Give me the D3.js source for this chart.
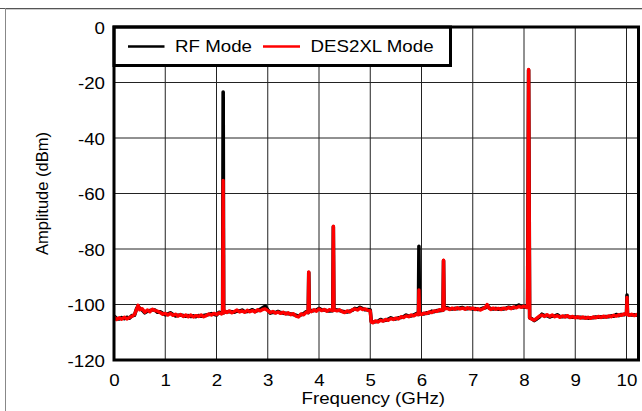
<!DOCTYPE html>
<html><head><meta charset="utf-8">
<script src="https://cdn.jsdelivr.net/npm/d3@7"></script>
<style>html,body{margin:0;padding:0;background:#fff;}svg{display:block;}</style>
</head><body>
<script>
const freqGHz = [
  0,0.05,0.1,0.15,0.2,0.25,0.3,0.35,0.4,0.44,0.47,0.5,0.55,0.6,0.65,0.7,0.75,0.8,0.85,0.9,0.95,
  1,1.05,1.1,1.15,1.2,1.25,1.3,1.35,1.4,1.45,1.5,1.55,1.6,1.65,1.7,1.75,1.8,1.85,1.9,1.95,
  2,2.05,2.1,2.12,2.13,2.14,2.17,2.2,2.25,2.3,2.35,2.4,2.45,2.5,2.55,2.6,2.65,2.7,2.75,2.8,2.85,2.9,2.95,
  3,3.05,3.1,3.15,3.2,3.25,3.3,3.35,3.4,3.45,3.5,3.55,3.6,3.65,3.7,3.75,3.79,3.8,3.81,3.85,3.9,3.95,
  4,4.05,4.1,4.15,4.2,4.27,4.28,4.29,4.35,4.4,4.45,4.5,4.55,4.6,4.65,4.7,4.75,4.8,4.85,4.9,4.95,
  5,5.02,5.05,5.1,5.15,5.2,5.25,5.3,5.35,5.4,5.45,5.5,5.55,5.6,5.65,5.7,5.75,5.8,5.85,5.9,5.94,5.95,5.96,
  6,6.05,6.1,6.15,6.2,6.25,6.3,6.35,6.42,6.43,6.44,6.5,6.55,6.6,6.65,6.7,6.75,6.8,6.85,6.9,6.95,
  7,7.05,7.1,7.15,7.2,7.25,7.28,7.32,7.35,7.4,7.45,7.5,7.55,7.6,7.65,7.7,7.75,7.8,7.85,7.9,7.95,8,8.05,8.07,8.09,8.11,
  8.15,8.2,8.25,8.3,8.35,8.4,8.45,8.5,8.55,8.6,8.65,8.7,8.75,8.8,8.85,8.9,8.95,
  9,9.05,9.1,9.15,9.2,9.25,9.3,9.35,9.4,9.45,9.5,9.55,9.6,9.65,9.7,9.75,9.8,9.85,9.9,9.95,
  10,10.01,10.02,10.05,10.1,10.15,10.2,10.22
];
const des2xlModeDbm = [
  -104.5,-105.4,-104.8,-105.3,-104.6,-105.2,-104.7,-104.3,-103.6,-101.8,-100.3,-101.9,-101.5,-102.8,-102.0,-102.6,-101.7,-102.2,-102.4,-102.9,-103.5,
  -103.2,-103.8,-103.2,-103.9,-103.5,-104.2,-103.6,-104.3,-103.8,-104.4,-103.8,-104.5,-104.0,-104.3,-103.8,-104.4,-104.0,-103.4,-103.8,-103.2,
  -103.6,-103.0,-103.4,-103.0,-55.3,-103.0,-102.4,-102.9,-102.3,-103.0,-102.5,-102.0,-102.7,-102.3,-102.8,-102.1,-102.6,-102.2,-102.7,-101.9,-102.3,-101.8,-101.6,
  -102.2,-102.9,-102.5,-103.1,-102.7,-103.2,-102.8,-103.4,-103.0,-103.7,-103.3,-104.2,-104.5,-103.4,-103.7,-102.8,-102.9,-88.3,-102.3,-102.6,-101.9,-102.4,
  -101.6,-102.2,-101.8,-102.4,-101.9,-102.2,-71.8,-101.8,-102.3,-101.9,-102.6,-102.9,-102.3,-102.7,-101.9,-101.6,-102.0,-101.3,-101.8,-101.6,-102.1,
  -102.3,-106.3,-106.6,-105.9,-106.3,-105.7,-106.0,-105.4,-105.7,-105.1,-105.4,-104.9,-105.2,-104.4,-104.7,-104.1,-104.4,-103.8,-104.1,-103.5,-103.6,-94.8,-103.2,
  -103.6,-103.1,-103.3,-102.7,-102.9,-102.3,-102.5,-101.9,-102.1,-84.0,-101.6,-101.4,-101.8,-101.3,-101.7,-101.2,-101.6,-101.3,-101.7,-101.2,-101.6,
  -101.3,-101.8,-101.5,-102.0,-101.5,-101.0,-100.0,-101.4,-101.8,-101.3,-101.7,-101.4,-101.8,-101.3,-101.6,-101.1,-101.5,-100.9,-101.2,-100.7,-101.0,-100.6,-101.1,-101.0,-15.3,-104.8,
  -105.3,-105.6,-104.9,-104.2,-103.8,-104.3,-103.7,-104.3,-103.8,-104.4,-104.0,-104.6,-104.1,-104.5,-104.0,-104.7,-104.3,
  -104.8,-104.4,-104.9,-104.5,-105.0,-104.6,-105.0,-104.5,-104.8,-104.3,-104.7,-104.2,-104.6,-104.1,-104.4,-103.9,-104.2,-103.7,-103.9,-103.4,
  -103.6,-97.5,-103.5,-103.9,-103.5,-104.0,-103.6,-104.0
];
const rfModeDbm = [
  -104.2,-105.0,-105.2,-104.7,-105.1,-104.6,-104.9,-104.0,-103.9,-101.5,-100.6,-101.4,-102.0,-103.0,-102.4,-102.2,-101.9,-102.0,-102.8,-102.6,-103.2,
  -103.7,-103.4,-103.0,-103.6,-104.1,-103.9,-103.8,-104.0,-104.2,-104.0,-104.3,-104.1,-104.4,-104.0,-104.2,-104.0,-103.8,-103.6,-103.3,-103.5,
  -103.8,-102.8,-103.1,-103.0,-23.4,-103.0,-102.6,-102.7,-102.5,-102.6,-102.8,-102.3,-102.4,-102.0,-102.6,-102.5,-102.3,-101.9,-102.5,-102.2,-101.8,-101.2,-100.6,
  -101.9,-103.1,-102.8,-102.9,-102.5,-102.9,-103.1,-103.2,-103.3,-103.4,-103.6,-103.9,-104.2,-103.7,-103.3,-102.6,-102.9,-88.5,-102.3,-102.2,-102.2,-102.0,
  -101.4,-101.9,-102.0,-102.2,-102.3,-102.2,-72.0,-101.8,-102.0,-102.2,-102.4,-102.6,-102.7,-102.4,-102.1,-101.4,-101.7,-101.0,-101.5,-101.9,-101.8,
  -102.0,-106.1,-106.3,-106.2,-106.0,-105.4,-105.8,-105.7,-105.3,-104.8,-105.2,-105.2,-104.8,-104.7,-104.4,-103.8,-104.2,-104.1,-103.8,-103.3,-103.6,-79.0,-103.2,
  -103.3,-103.4,-103.0,-103.0,-102.4,-102.6,-102.2,-102.2,-102.1,-84.2,-101.6,-101.1,-101.6,-101.6,-101.4,-101.5,-101.3,-101.1,-101.5,-101.5,-101.3,
  -101.6,-101.5,-101.8,-101.7,-101.3,-101.2,-100.3,-101.2,-101.5,-101.6,-101.4,-101.7,-101.5,-101.6,-101.3,-101.0,-101.2,-101.2,-100.8,-100.2,-100.8,-100.9,-101.0,-101.0,-15.5,-104.8,
  -105.1,-105.8,-105.2,-104.5,-103.5,-104.0,-104.0,-104.5,-104.1,-104.2,-103.7,-104.3,-104.4,-104.2,-104.3,-104.5,-104.6,
  -104.5,-104.7,-104.6,-104.8,-104.7,-104.9,-104.8,-104.8,-104.5,-104.6,-104.4,-104.5,-104.3,-104.4,-104.1,-104.2,-103.6,-104.0,-103.6,-103.7,
  -103.3,-96.6,-103.5,-103.7,-103.8,-103.7,-103.9,-103.8
];
const xTicks = [0,1,2,3,4,5,6,7,8,9,10];
const yTicks = [0,-20,-40,-60,-80,-100,-120];
const seriesNames = ["RF Mode","DES2XL Mode"];
const seriesColors = ["#000000","#ff0000"];

const W = 642, H = 411;
const L = 114, R = 638.5, T = 27, B = 360;
const sx = 1.17;
const FONT = "'Liberation Sans', Arial, Helvetica, sans-serif";

const svg = d3.select("body").append("svg").attr("width", W).attr("height", H)
  .style("font-family", FONT);

// outer frame
svg.append("line").attr("x1",0).attr("x2",W).attr("y1",8.5).attr("y2",8.5).attr("stroke","#555").attr("stroke-width",1);
svg.append("line").attr("x1",6).attr("x2",W).attr("y1",9.5).attr("y2",9.5).attr("stroke","#ccc").attr("stroke-width",1);
svg.append("line").attr("x1",5.5).attr("x2",5.5).attr("y1",8).attr("y2",H).attr("stroke","#888").attr("stroke-width",1);

const x = d3.scaleLinear().domain([0, (R - L) / 51.25]).range([L, R]);
const y = d3.scaleLinear().domain([-120, 0]).range([B, T]);

// grid
const grid = svg.append("g");
grid.selectAll(".vg").data(xTicks.filter(d => d > 0)).enter().append("line")
  .attr("x1", d => x(d)).attr("x2", d => x(d)).attr("y1", T).attr("y2", B)
  .attr("stroke", "#222").attr("stroke-width", 1);
grid.selectAll(".hg").data(yTicks.filter(d => d > -120 && d < 0)).enter().append("line")
  .attr("x1", L).attr("x2", R).attr("y1", d => y(d)).attr("y2", d => y(d))
  .attr("stroke", "#222").attr("stroke-width", 1);

// clip
svg.append("clipPath").attr("id","clip").append("rect")
  .attr("x", L).attr("y", T).attr("width", R - L).attr("height", B - T);

const rfData = freqGHz.map((f, i) => [f, rfModeDbm[i]]);
const desData = freqGHz.map((f, i) => [f, des2xlModeDbm[i]]);
const line = d3.line().x(d => x(d[0])).y(d => y(d[1]));
const plot = svg.append("g").attr("clip-path","url(#clip)");
plot.append("path").datum(rfData).attr("d", line).attr("fill","none")
  .attr("stroke", seriesColors[0]).attr("stroke-width", 3.6).attr("stroke-linejoin","round");
plot.append("path").datum(desData).attr("d", line).attr("fill","none")
  .attr("stroke", seriesColors[1]).attr("stroke-width", 3.4).attr("stroke-linejoin","round");

// legend
const lg = svg.append("g");
lg.append("rect").attr("x", L).attr("y", T).attr("width", 450.5 - L).attr("height", 65.5 - T)
  .attr("fill","#fff").attr("stroke","#000").attr("stroke-width",3);
const legItems = [{x1:128, x2:164.5, tx:175}, {x1:263, x2:300, tx:310.5}];
legItems.forEach((it, i) => {
  lg.append("line").attr("x1", it.x1).attr("x2", it.x2).attr("y1", 46.5).attr("y2", 46.5)
    .attr("stroke", seriesColors[i]).attr("stroke-width", 2.5);
  lg.append("text").attr("transform", `translate(${it.tx},52) scale(${sx},1)`)
    .attr("font-size", 16).attr("fill","#000").text(seriesNames[i]);
});

// plot border
svg.append("rect").attr("x", L).attr("y", T).attr("width", R - L).attr("height", B - T)
  .attr("fill","none").attr("stroke","#000").attr("stroke-width",3);

// axes
const fmt = d => String(d);
const yAxis = svg.append("g").attr("transform", `translate(${L},0)`)
  .call(d3.axisLeft(y).tickValues(yTicks).tickSize(0).tickFormat(fmt));
yAxis.select(".domain").remove();
yAxis.selectAll("text").attr("x", null).attr("dy", null)
  .attr("transform", `translate(-9,6) scale(${sx},1)`)
  .attr("font-size", 16).attr("font-family", FONT).attr("fill","#000").attr("text-anchor","end");

const xAxis = svg.append("g").attr("transform", `translate(0,${B})`)
  .call(d3.axisBottom(x).tickValues(xTicks).tickSize(0).tickFormat(fmt));
xAxis.select(".domain").remove();
xAxis.selectAll("text").attr("y", null).attr("dy", null)
  .attr("transform", `translate(0,26) scale(${sx},1)`)
  .attr("font-size", 16).attr("font-family", FONT).attr("fill","#000").attr("text-anchor","middle");

// axis titles
svg.append("text").attr("transform", `translate(${(L + R) / 2 - 3},404) scale(${sx},1)`)
  .attr("text-anchor","middle").attr("font-size",16).attr("fill","#000").text("Frequency (GHz)");
svg.append("text").attr("transform", `translate(48,${(T + B) / 2}) rotate(-90)`)
  .attr("text-anchor","middle").attr("font-size",16.5).attr("fill","#000").text("Amplitude (dBm)");
</script>
</body></html>
